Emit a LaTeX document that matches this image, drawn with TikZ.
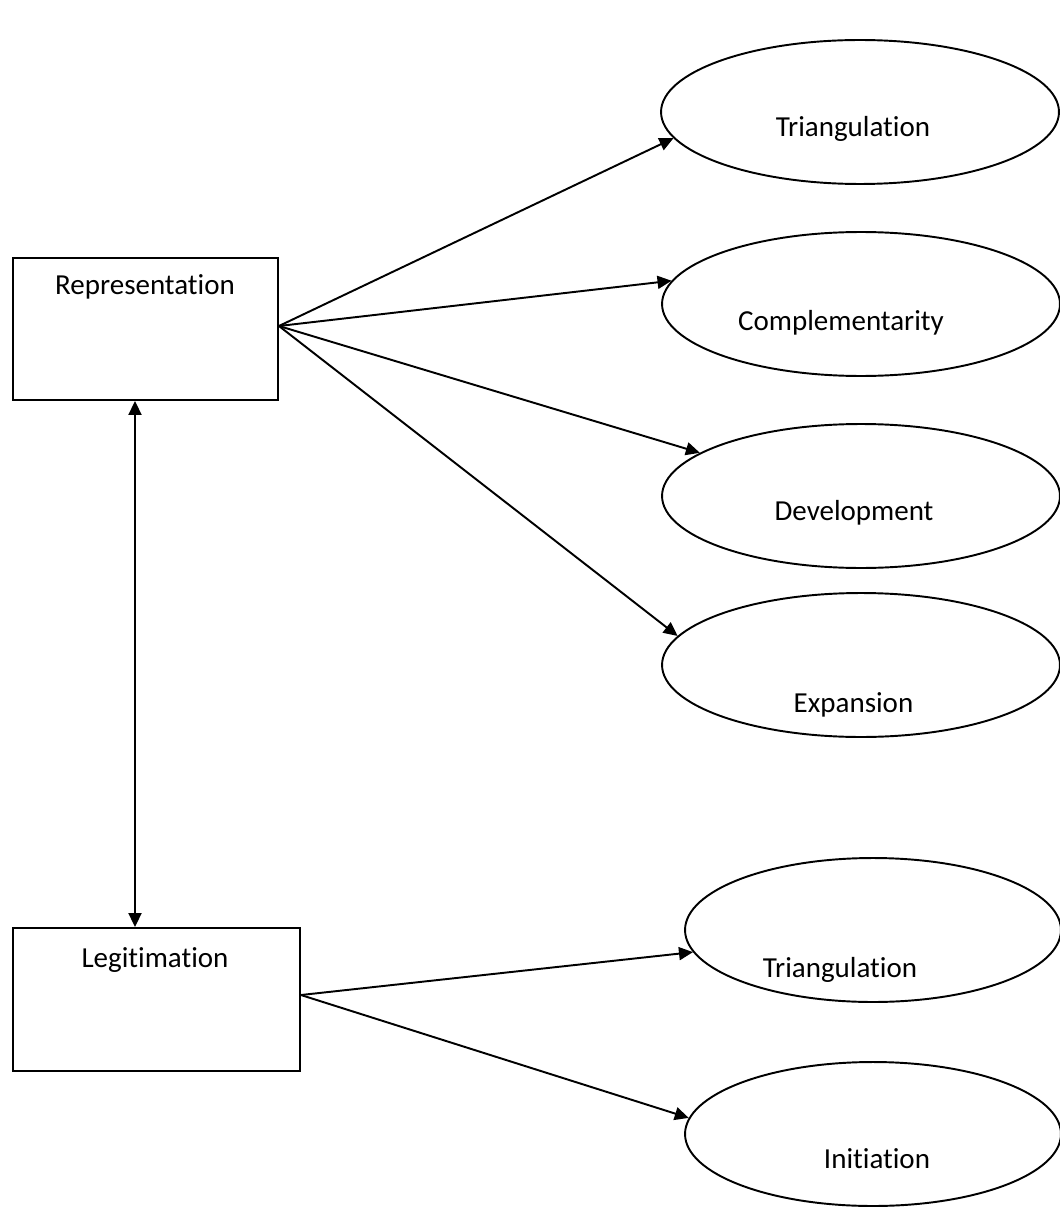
\documentclass[tikz,border=0pt]{standalone}
\usepackage{fontspec}
\setmainfont{Carlito}[Ligatures={NoCommon}]
\usetikzlibrary{shapes.geometric,arrows.meta}

\begin{document}
\begin{tikzpicture}[x=0.02cm,y=-0.02cm,line width=1.1pt,
	every node/.style={black,font=\fontsize{16.5}{20}\selectfont},
	box/.style={draw,rectangle,inner sep=0pt},
	oval/.style={draw,ellipse,inner sep=0pt,minimum width=7.96cm,minimum height=2.88cm},
	word/.style={anchor=base,inner sep=0pt},
	>={Triangle[length=0.28cm,width=0.26cm]}]
	\useasboundingbox (0,0) rectangle (1060,1209);

	\node[box,minimum width=5.3cm,minimum height=2.84cm] (rep) at (145.5,329) {};
	\node[box,minimum width=5.74cm,minimum height=2.86cm] (leg) at (156.5,999.5) {};

	\node[oval] (tri) at (860,112) {};
	\node[oval] (comp) at (861,304) {};
	\node[oval] (dev) at (861,496) {};
	\node[oval] (exp) at (861,665) {};
	\node[oval,minimum width=7.52cm] (tri2) at (873,930) {};
	\node[oval,minimum width=7.52cm] (init) at (873,1134) {};

	\node[word] (rept) at (145,295) {Representation};
	\node[word] (legt) at (155,967) {Legitimation};
	\node[word] (trit) at (853,137) {Triangulation};
	\node[word] (compt) at (841,330) {Complementarity};
	\node[word] (devt) at (854,520) {Development};
	\node[word] (expt) at (853.5,712) {Expansion};
	\node[word] (tri2t) at (840,977) {Triangulation};
	\node[word] (initt) at (877,1168) {Initiation};

	\coordinate (R) at ([yshift=0.06cm]rep.east);
	\coordinate (L) at ([yshift=0.09cm]leg.east);

	\draw[->] (R) -- (tri.188);
	\draw[->] (R) -- (comp.173);
	\draw[->] (R) -- (dev.165);
	\draw[->] (R) -- (exp.171);

	\draw[->] (L) -- (tri2.187);
	\draw[->] (L) -- (init.175);

	\draw[<->] (rep.south -| 135,0) -- (leg.north -| 135,0);
\end{tikzpicture}
\end{document}
